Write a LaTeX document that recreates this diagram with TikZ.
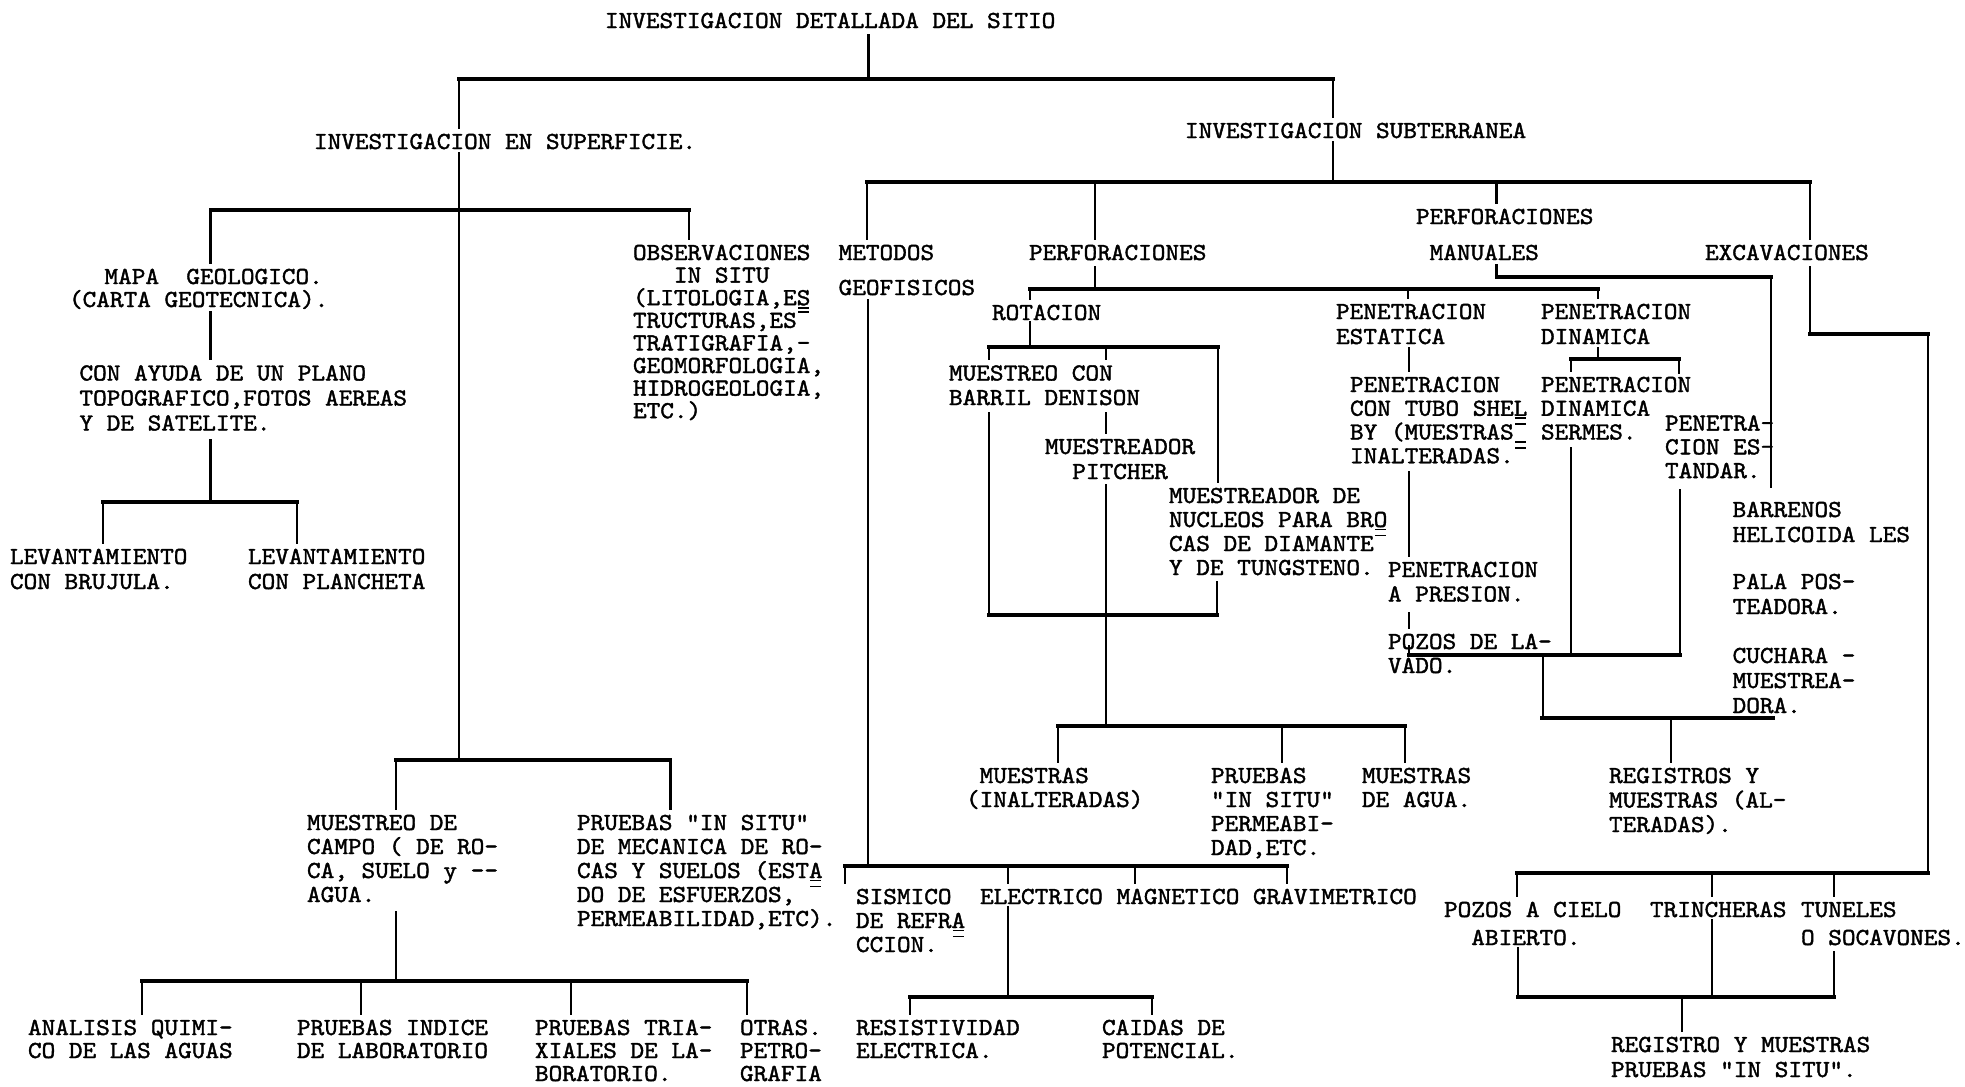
\documentclass[tikz,border=0pt]{standalone}
\usepackage{fontspec}
\newfontfamily\tw[FakeStretch=1.061,FakeBold=1.6]{lmmono10-regular.otf}
\usetikzlibrary{calc}
% strut fixing the top of the first line of every label
\newcommand\tst{\rule{0pt}{8.5pt}}
% typewriter overstrike marks: underlined character, raised dash cell
\newcommand\ulc[1]{\rlap{\hbox to 0.557em{\hss\rule[-0.14em]{0.45em}{0.07em}\hss}}#1}
\newcommand\ovc{\hbox to 0.557em{\hss\smash{\rule[0.6em]{0.45em}{0.07em}}\hss}}
\tikzset{
  tx/.style={anchor=north west, inner sep=0pt, outer sep=0pt, align=left,
    yshift=8.5pt, font={\tw\fontsize{9.8pt}{#1}\selectfont\frenchspacing}},
  tx/.default=9.6pt,
  hl/.style={line width=1.3pt, line cap=rect},
  vl/.style={line width=0.9pt, line cap=rect},
}
\begin{document}
\begin{tikzpicture}[x=0.4pt, y=-0.4pt]
\useasboundingbox (0,0) rectangle (1965,1086);
\fill[white] (0,0) rectangle (1965,1086);

% ---------------- labels ----------------
\node[tx] (title) at (605,28) {\tst INVESTIGACION DETALLADA DEL SITIO};
\node[tx] (sup) at (314,149) {\tst INVESTIGACION EN SUPERFICIE.};
\node[tx] (sub) at (1185,138) {\tst INVESTIGACION SUBTERRANEA};

\node[tx=9.2pt] (mapa) at (69,284) {\tst\hspace*{14.2pt}MAPA\ \ GEOLOGICO.\\(CARTA GEOTECNICA).};
\node[tx=10pt] (ayuda) at (79.5,380.5) {\tst CON AYUDA DE UN PLANO\\TOPOGRAFICO,FOTOS AEREAS\\Y DE SATELITE.};
\node[tx=10pt] (levA) at (10,564) {\tst LEVANTAMIENTO\\CON BRUJULA.};
\node[tx=10pt] (levB) at (248,564) {\tst LEVANTAMIENTO\\CON PLANCHETA};
\node[tx=9.04pt] (obs) at (633,260) {\tst OBSERVACIONES\\\phantom{OBS}IN SITU\\(LITOLOGIA,E\ulc{S}\\TRUCTURAS,ES\ovc\\TRATIGRAFIA,-\\GEOMORFOLOGIA,\\HIDROGEOLOGIA,\\ETC.)};

\node[tx=14pt] (met) at (838.6,260) {\tst METODOS\\GEOFISICOS};
\node[tx] (perf) at (1029,260) {\tst PERFORACIONES};
\node[tx=14.4pt] (pman) at (1416,224) {\tst PERFORACIONES\\\phantom{P}MANUALES};
\node[tx] (exc) at (1705,260) {\tst EXCAVACIONES};

\node[tx] (rot) at (992,320) {\tst ROTACION};
\node[tx=10pt] (pest) at (1336,319) {\tst PENETRACION\\ESTATICA};
\node[tx=10pt] (pdin) at (1541,319) {\tst PENETRACION\\DINAMICA};
\node[tx=9.8pt] (mden) at (949,380.5) {\tst MUESTREO CON\\BARRIL DENISON};
\node[tx=10pt] (pitch) at (1045,454) {\tst MUESTREADOR\\\phantom{MU}PITCHER};
\node[tx=9.6pt] (nuc) at (1169,503) {\tst MUESTREADOR DE\\NUCLEOS PARA BR\ulc{O}\\CAS DE DIAMANTE\ovc\\Y DE TUNGSTENO.};
\node[tx=9.5pt] (shel) at (1350,392) {\tst PENETRACION\\CON TUBO SHE\ulc{L}\\BY (MUESTRAS\rlap{\ovc}\ulc{\phantom{X}}\\INALTERADAS.\ovc};
\node[tx=9.5pt] (sermes) at (1541,392) {\tst PENETRACION\\DINAMICA\\SERMES.};
\node[tx=9.5pt] (estd) at (1665,430.6) {\tst PENETRA-\\CION ES-\\TANDAR.};
\node[tx=9.8pt] (pres) at (1388,577) {\tst PENETRACION\\A PRESION.};
\node[tx=9.6pt] (pozos) at (1388,649) {\tst POZOS DE LA-\\VADO.};
\node[tx=10pt] (barr) at (1732.6,517) {\tst BARRENOS\\HELICOIDA LES};
\node[tx=10pt] (pala) at (1732.6,589) {\tst PALA POS-\\TEADORA.};
\node[tx=10pt] (cuch) at (1732.6,663) {\tst CUCHARA -\\MUESTREA-\\DORA.};

\node[tx=9.6pt] (mueA) at (966,783) {\tst\phantom{(}MUESTRAS\\(INALTERADAS)};
\node[tx=9.6pt] (pru) at (1211,783) {\tst PRUEBAS\\"IN SITU"\\PERMEABI-\\DAD,ETC.};
\node[tx=9.6pt] (agua) at (1362,783) {\tst MUESTRAS\\DE AGUA.};
\node[tx=9.8pt] (reg) at (1609,783) {\tst REGISTROS Y\\MUESTRAS (AL-\\TERADAS).};

\node[tx=9.6pt] (campo) at (307,830) {\tst MUESTREO DE\\CAMPO ( DE RO-\\CA, SUELO y -{}-\\AGUA.};
\node[tx=9.6pt] (pis) at (577,830) {\tst PRUEBAS "IN SITU"\\DE MECANICA DE RO-\\CAS Y SUELOS (EST\ulc{A}\\DO DE ESFUERZOS, \ovc\\PERMEABILIDAD,ETC).};

\node[tx=9.6pt] (sis) at (856,904) {\tst SISMICO\\DE REFR\ulc{A}\\CCION. \ovc};
\node[tx] (elec) at (980,904) {\tst ELECTRICO};
\node[tx] (mag) at (1116.6,904) {\tst MAGNETICO};
\node[tx] (grav) at (1253,904) {\tst GRAVIMETRICO};
\node[tx=9.2pt] (res) at (856,1035) {\tst RESISTIVIDAD\\ELECTRICA.};
\node[tx=9.2pt] (caid) at (1102,1035) {\tst CAIDAS DE\\POTENCIAL.};

\node[tx=9.2pt] (anal) at (28,1035) {\tst ANALISIS QUIMI-\\CO DE LAS AGUAS};
\node[tx=9.2pt] (pind) at (297,1035) {\tst PRUEBAS INDICE\\DE LABORATORIO};
\node[tx=9.2pt] (ptri) at (535,1035) {\tst PRUEBAS TRIA-\\XIALES DE LA-\\BORATORIO.};
\node[tx=9.2pt] (otr) at (740,1035) {\tst OTRAS.\\PETRO-\\GRAFIA};

\node[tx=11.2pt] (pozc) at (1444,917) {\tst POZOS A CIELO\\\phantom{PO}ABIERTO.};
\node[tx] (trin) at (1650,917) {\tst TRINCHERAS};
\node[tx=11.2pt] (tun) at (1801,917) {\tst TUNELES\\O SOCAVONES.};
\node[tx=10pt] (regp) at (1611,1052) {\tst REGISTRO Y MUESTRAS\\PRUEBAS "IN SITU".};

% ---------------- first split ----------------
\coordinate (r0) at (868.6,35);
\coordinate (r0b) at (868.6,79);
\coordinate (bL) at (459,79);
\coordinate (bR) at (1333,79);
\draw[vl] (r0) -- (r0b);
\draw[hl] (bL) -- (bR);
\draw[vl] (bL) -- (bL |- sup.north);
\draw[vl] (bR) -- (bR |- sub.north);

% ---------------- surface branch ----------------
\coordinate (s0) at (459,153);
\coordinate (s1) at (459,760);
\draw[vl] (s0) -- (s1);
\coordinate (sbL) at (210.5,210);
\coordinate (sbR) at (689,210);
\draw[hl] (sbL) -- (sbR);
\draw[vl] (sbL) -- (sbL |- mapa.north);
\draw[vl] (sbR) -- (sbR |- obs.north);
\coordinate (m0) at (210.5,312);
\draw[vl] (m0) -- (m0 |- ayuda.north);
\coordinate (a0) at (210.5,440);
\coordinate (a1) at (210.5,502);
\draw[vl] (a0) -- (a1);
\coordinate (lbL) at (102.7,502);
\coordinate (lbR) at (297,502);
\draw[hl] (lbL) -- (lbR);
\draw[vl] (lbL) -- (lbL |- levA.north);
\draw[vl] (lbR) -- (lbR |- levB.north);

\coordinate (cbL) at (396,760);
\coordinate (cbR) at (670.5,760);
\draw[hl] (cbL) -- (cbR);
\draw[vl] (cbL) -- (cbL |- campo.north);
\draw[vl] (cbR) -- (cbR |- pis.north);
\coordinate (c0) at (396,912);
\coordinate (c1) at (396,981);
\draw[vl] (c0) -- (c1);
\coordinate (lab1) at (142,981);
\coordinate (lab2) at (361,981);
\coordinate (lab3) at (571,981);
\coordinate (lab4) at (747,981);
\draw[hl] (lab1) -- (lab4);
\draw[vl] (lab1) -- (lab1 |- anal.north);
\draw[vl] (lab2) -- (lab2 |- pind.north);
\draw[vl] (lab3) -- (lab3 |- ptri.north);
\draw[vl] (lab4) -- (lab4 |- otr.north);

% ---------------- subsurface branch ----------------
\coordinate (u0) at (1333,142);
\coordinate (u1) at (1333,182);
\draw[vl] (u0) -- (u1);
\coordinate (ubL) at (867,182);
\coordinate (ubP) at (1095,182);
\coordinate (ubM) at (1496.5,182);
\coordinate (ubR) at (1810,182);
\draw[hl] (ubL) -- (ubR);
\draw[vl] (ubL) -- (ubL |- met.north);
\draw[vl] (ubP) -- (ubP |- perf.north);
\draw[vl] (ubM) -- (ubM |- pman.north);
\draw[vl] (ubR) -- (ubR |- exc.north);

% geophysical methods
\coordinate (g0) at (868,300);
\coordinate (g1) at (868,866);
\draw[vl] (g0) -- (g1);
\coordinate (gbL) at (845,866);
\coordinate (gbE) at (1008,866);
\coordinate (gbM) at (1135,866);
\coordinate (gbR) at (1287,866);
\draw[hl] (gbL) -- (gbR);
\draw[vl] (gbL) -- (gbL |- sis.north);
\draw[vl] (gbE) -- (gbE |- elec.north);
\draw[vl] (gbM) -- (gbM |- mag.north);
\draw[vl] (gbR) -- (gbR |- grav.north);
\coordinate (e0) at (1008,907);
\coordinate (e1) at (1008,997);
\draw[vl] (e0) -- (e1);
\coordinate (ebL) at (910,997);
\coordinate (ebR) at (1152,997);
\draw[hl] (ebL) -- (ebR);
\draw[vl] (ebL) -- (ebL |- res.north);
\draw[vl] (ebR) -- (ebR |- caid.north);

% machine borings
\coordinate (p0) at (1095,267);
\coordinate (p1) at (1095,289);
\draw[vl] (p0) -- (p1);
\coordinate (pbL) at (1030,289);
\coordinate (pbE) at (1408,289);
\coordinate (pbD) at (1598,289);
\draw[hl] (pbL) -- (pbD);
\draw[vl] (pbL) -- (pbL |- rot.north);
\draw[vl] (pbE) -- (pbE |- pest.north);
\draw[vl] (pbD) -- (pbD |- pdin.north);

% rotary drilling
\coordinate (q0) at (1030,322);
\coordinate (q1) at (1030,347);
\draw[vl] (q0) -- (q1);
\coordinate (rbL) at (989,347);
\coordinate (rbM) at (1106,347);
\coordinate (rbR) at (1218,347);
\draw[hl] (rbL) -- (rbR);
\draw[vl] (rbL) -- (rbL |- mden.north);
\draw[vl] (rbM) -- (rbM |- mden.north);
\draw[vl] (rbR) -- (rbR |- nuc.north);
\coordinate (k0) at (989,413);
\coordinate (k1) at (989,615);
\coordinate (k2) at (1217,615);
\coordinate (k3) at (1217,582);
\draw[vl] (k0) -- (k1);
\draw[hl] (k1) -- (k2);
\draw[vl] (k2) -- (k3);
\coordinate (k4) at (1106,413);
\draw[vl] (k4) -- (k4 |- pitch.north);
\coordinate (k5) at (1106,485);
\coordinate (k6) at (1106,726);
\draw[vl] (k5) -- (k6);
\coordinate (mbL) at (1058,726);
\coordinate (mbM) at (1282,726);
\coordinate (mbR) at (1405,726);
\draw[hl] (mbL) -- (mbR);
\draw[vl] (mbL) -- (mbL |- mueA.north);
\draw[vl] (mbM) -- (mbM |- pru.north);
\draw[vl] (mbR) -- (mbR |- agua.north);

% static penetration
\coordinate (h0) at (1409,348);
\draw[vl] (h0) -- (h0 |- shel.north);
\coordinate (h1) at (1409,472);
\draw[vl] (h1) -- (h1 |- pres.north);
\coordinate (h2) at (1409,613);
\draw[vl] (h2) -- (h2 |- pozos.north);
\coordinate (wT) at (1409,646);
\coordinate (wL) at (1409,655);
\coordinate (wR) at (1680,655);
\draw[vl] (wT) -- (wL);
\draw[hl] (wL) -- (wR);

% dynamic penetration
\coordinate (d0) at (1598,348);
\coordinate (d1) at (1598,359);
\draw[vl] (d0) -- (d1);
\coordinate (dbL) at (1571,359);
\coordinate (dbR) at (1679,359);
\coordinate (dbRe) at (1679,373);
\draw[hl] (dbL) -- (dbR);
\draw[vl] (dbL) -- (dbL |- sermes.north);
\draw[vl] (dbR) -- (dbRe);
\coordinate (d2) at (1571,448);
\draw[vl] (d2) -- (d2 |- wL);
\coordinate (d3) at (1680,490);
\draw[vl] (d3) -- (wR);
\coordinate (w2) at (1543,655);
\coordinate (w3) at (1543,718);
\draw[vl] (w2) -- (w3);
\coordinate (xbL) at (1542,718);
\coordinate (xbM) at (1671,718);
\coordinate (xbR) at (1773,718);
\draw[hl] (xbL) -- (xbR);
\draw[vl] (xbM) -- (xbM |- reg.north);

% hand borings
\coordinate (n0) at (1496.5,265);
\coordinate (n1) at (1496.5,277);
\coordinate (n2) at (1771,277);
\coordinate (n3) at (1771,487);
\draw[vl] (n0) -- (n1);
\draw[hl] (n1) -- (n2);
\draw[vl] (n2) -- (n3);

% excavations
\coordinate (x0) at (1810,267);
\coordinate (x1) at (1810,334);
\coordinate (x2) at (1928,334);
\coordinate (x3) at (1928,873);
\draw[vl] (x0) -- (x1);
\draw[hl] (x1) -- (x2);
\draw[vl] (x2) -- (x3);
\coordinate (ybL) at (1517,873);
\coordinate (ybM) at (1712,873);
\coordinate (ybR) at (1834,873);
\draw[hl] (ybL) -- (x3);
\draw[vl] (ybL) -- (ybL |- pozc.north);
\draw[vl] (ybM) -- (ybM |- trin.north);
\draw[vl] (ybR) -- (ybR |- tun.north);
\coordinate (z1) at (1518,948);
\coordinate (z2) at (1712,920);
\coordinate (z3) at (1834,952);
\coordinate (zbL) at (1518,997);
\coordinate (zbM) at (1712,997);
\coordinate (zbR) at (1834,997);
\coordinate (zc) at (1682,997);
\draw[vl] (z1) -- (zbL);
\draw[vl] (z2) -- (zbM);
\draw[vl] (z3) -- (zbR);
\draw[hl] (zbL) -- (zbR);
\draw[vl] (zc) -- (zc |- regp.north);
\end{tikzpicture}
\end{document}
